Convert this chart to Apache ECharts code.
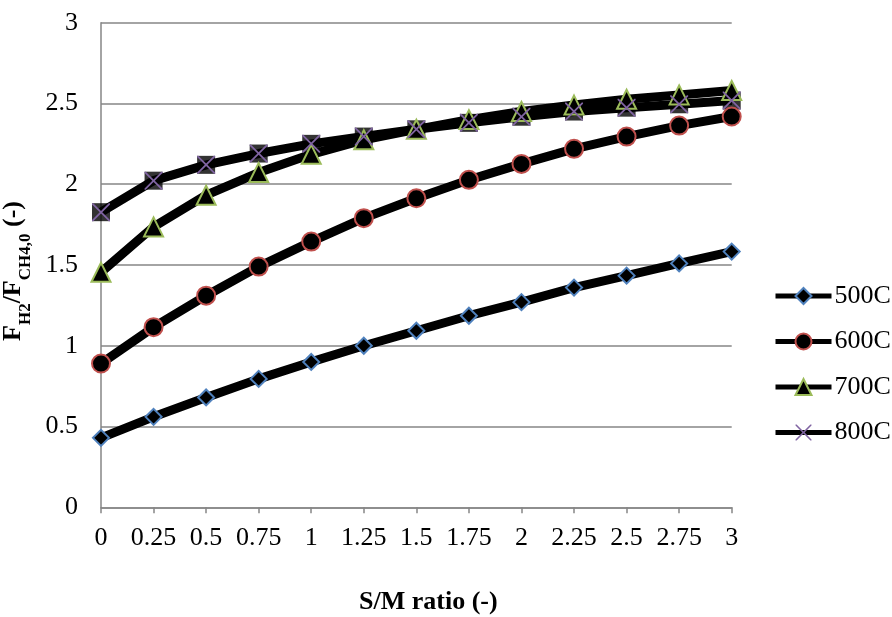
<!DOCTYPE html>
<html>
<head>
<meta charset="utf-8">
<script src="https://cdn.jsdelivr.net/npm/echarts@6/dist/echarts.min.js"></script>
<style>
html,body{margin:0;padding:0;background:#fff;}
#chart{width:892px;height:617px;}
</style>
</head>
<body>
<div id="chart"></div>
<script>
// ---- data ----
const smRatio = [0, 0.25, 0.5, 0.75, 1, 1.25, 1.5, 1.75, 2, 2.25, 2.5, 2.75, 3];
const seriesNames = ['500C', '600C', '700C', '800C'];
const t500 = [0.43, 0.56, 0.68, 0.795, 0.90, 1.00, 1.093, 1.186, 1.27, 1.36, 1.434, 1.51, 1.583];
const t600 = [0.89, 1.115, 1.31, 1.49, 1.645, 1.79, 1.913, 2.027, 2.126, 2.219, 2.295, 2.363, 2.419];
const t700 = [1.455, 1.736, 1.932, 2.072, 2.185, 2.275, 2.34, 2.40, 2.45, 2.49, 2.526, 2.553, 2.58];
const t800 = [1.827, 2.022, 2.12, 2.19, 2.25, 2.295, 2.34, 2.38, 2.418, 2.45, 2.474, 2.495, 2.518];
const xTitle = 'S/M ratio (-)';

// ---- chart ----
const FONT = "'Liberation Serif', 'Times New Roman', serif";
const pairs = ys => smRatio.map((x, i) => [x, ys[i]]);
const xPath = 'path://M0,0 L7,0 L50,43 L93,0 L100,0 L100,7 L57,50 L100,93 L100,100 L93,100 L50,57 L7,100 L0,100 L0,93 L43,50 L0,7 Z';
const LW = 9;

function lineSeries(name, ys, symbol, size, border, extra) {
  const s = {
    name: name,
    type: 'line',
    data: pairs(ys),
    symbol: symbol,
    symbolSize: size,
    showSymbol: true,
    lineStyle: { color: '#000', width: LW, opacity: 1 },
    itemStyle: { color: '#000', borderColor: border, borderWidth: 2 },
    emphasis: { disabled: true, lineStyle: { width: LW } },
    animation: false
  };
  return Object.assign(s, extra || {});
}

const chart = echarts.init(document.getElementById('chart'), null, { renderer: 'canvas' });
const axisGray = '#868686';
chart.setOption({
  backgroundColor: '#fff',
  animation: false,
  grid: { left: 101, right: 160.3, top: 22.7, bottom: 109.7, containLabel: false, outerBoundsMode: 'none' },
  legend: {
    data: seriesNames,
    orient: 'vertical',
    left: 773,
    top: 283,
    padding: 0,
    itemWidth: 56,
    itemHeight: 20,
    itemGap: 19.5,
    lineStyle: { width: 5 },
    textStyle: { fontFamily: FONT, fontSize: 26, color: '#000', padding: [0, 0, 0, -2] },
    selectedMode: false
  },
  xAxis: {
    type: 'value',
    min: 0, max: 3, interval: 0.25,
    name: xTitle,
    nameLocation: 'middle',
    nameGap: 82,
    nameTextStyle: { fontFamily: FONT, fontSize: 26, fontWeight: 'bold', color: '#000', padding: [0, 0, 0, 24] },
    axisLine: { show: true, lineStyle: { color: axisGray, width: 1.5 } },
    axisTick: { show: true, length: 6, lineStyle: { color: axisGray, width: 1.5 } },
    axisLabel: { fontFamily: FONT, fontSize: 26, color: '#000', margin: 18 },
    splitLine: { show: false }
  },
  yAxis: {
    type: 'value',
    min: 0, max: 3, interval: 0.5,
    name: '{a|F}{b|H2}{a|/F}{b|CH4,0}{a| (-)}',
    nameLocation: 'middle',
    nameGap: 56,
    nameTextStyle: {
      padding: [0, 12, 0, 0],
      rich: {
        a: { fontFamily: FONT, fontSize: 26, fontWeight: 'bold', color: '#000', verticalAlign: 'bottom', padding: [0, 0, 8, 0] },
        b: { fontFamily: FONT, fontSize: 17, fontWeight: 'bold', color: '#000', verticalAlign: 'bottom' }
      }
    },
    axisLine: { show: true, lineStyle: { color: axisGray, width: 1.5 } },
    axisTick: { show: false },
    axisLabel: { fontFamily: FONT, fontSize: 26, color: '#000', margin: 23 },
    splitLine: { show: true, lineStyle: { color: axisGray, width: 1.5 } }
  },
  series: [
    lineSeries('500C', t500, 'diamond', 16, '#4F81BD'),
    lineSeries('600C', t600, 'circle', 18, '#C0504D'),
    lineSeries('700C', t700, 'triangle', 19, '#9BBB59'),
    {
      name: '800C-square',
      type: 'scatter',
      data: pairs(t800),
      symbol: 'rect',
      symbolSize: 18,
      itemStyle: { color: '#000' },
      emphasis: { disabled: true },
      silent: true,
      animation: false
    },
    lineSeries('800C', t800, xPath, 18, '#8064A2', {
      itemStyle: { color: '#8064A2', borderWidth: 0 }
    })
  ]
});
</script>
</body>
</html>
